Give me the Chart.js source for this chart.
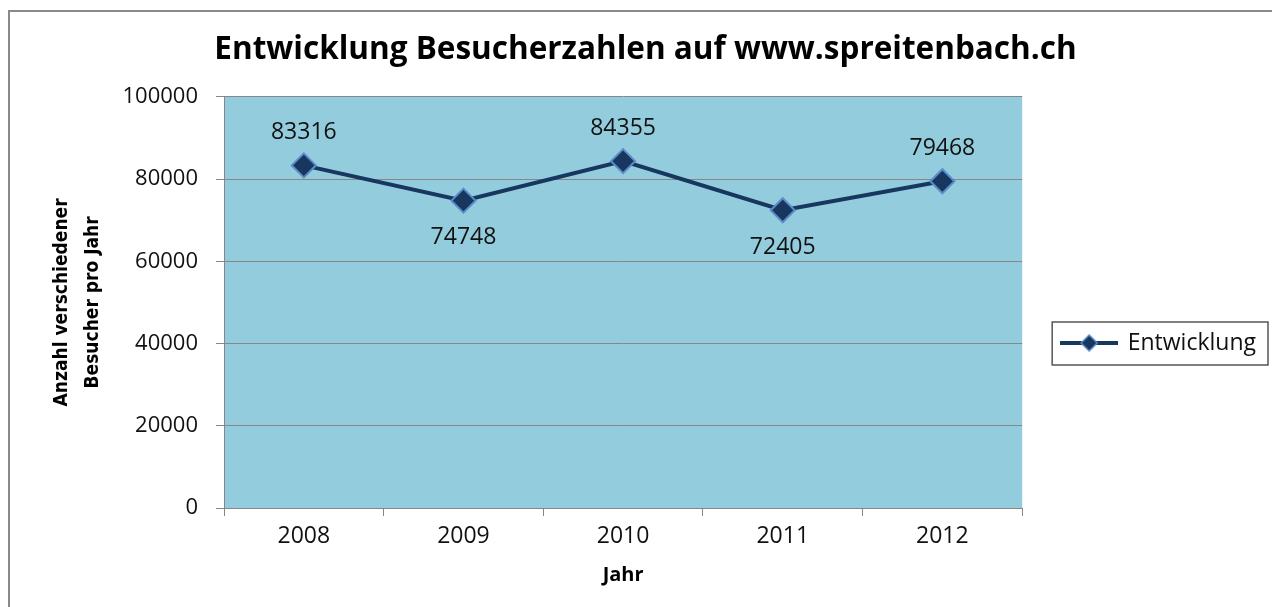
<!DOCTYPE html>
<html>
<head>
<meta charset="utf-8">
<script src="https://cdn.jsdelivr.net/npm/chart.js@4.4.1/dist/chart.umd.min.js"></script>
<style>
  html, body { margin: 0; padding: 0; background: #fff; }
  canvas { display: block; }
</style>
</head>
<body>
<canvas id="visits" width="1272" height="607"></canvas>
<script>
const years = ['2008', '2009', '2010', '2011', '2012'];
const visitors = [83316, 74748, 84355, 72405, 79468];
const yTicks = [0, 20000, 40000, 60000, 80000, 100000];
const seriesName = 'Entwicklung';

const lineColor = '#17375E';
const markerEdge = '#5B8BC9';
const gridColor = '#878787';
const fontFamily = "'Open Sans', 'Noto Sans', sans-serif";

// legend symbol: line with diamond in the middle
function legendSymbol () {
    const c = document.createElement('canvas');
    c.width = 58;
    c.height = 20;
    const ctx = c.getContext('2d');
    ctx.strokeStyle = lineColor;
    ctx.lineWidth = 4;
    ctx.beginPath();
    ctx.moveTo(0, 10);
    ctx.lineTo(58, 10);
    ctx.stroke();
    ctx.beginPath();
    ctx.moveTo(29, 2);
    ctx.lineTo(37, 10);
    ctx.lineTo(29, 18);
    ctx.lineTo(21, 10);
    ctx.closePath();
    ctx.fillStyle = lineColor;
    ctx.fill();
    ctx.lineWidth = 1.5;
    ctx.strokeStyle = markerEdge;
    ctx.stroke();
    return c;
}

const frame = {
    id: 'frame',
    beforeDraw (chart) {
        const { ctx } = chart;
        ctx.save();
        ctx.fillStyle = '#fff';
        ctx.fillRect(0, 0, chart.width, chart.height);
        ctx.strokeStyle = '#898989';
        ctx.lineWidth = 2;
        ctx.strokeRect(9, 11, chart.width + 20, chart.height + 20);
        const a = chart.chartArea;
        ctx.fillStyle = '#93CDDD';
        ctx.fillRect(a.left, a.top, a.right - a.left, a.bottom - a.top);
        ctx.restore();
    },
    afterDraw (chart) {
        const box = chart.legend.legendHitBoxes[0];
        if (!box) return;
        const { ctx } = chart;
        const mid = box.top + box.height / 2;
        ctx.save();
        ctx.strokeStyle = '#555';
        ctx.lineWidth = 1.5;
        ctx.strokeRect(box.left - 10, mid - 21, box.width + 22, 43);
        ctx.restore();
    }
};

const valueLabels = {
    id: 'valueLabels',
    afterDatasetsDraw (chart) {
        const { ctx } = chart;
        const meta = chart.getDatasetMeta(0);
        ctx.save();
        ctx.font = '23px ' + fontFamily;
        ctx.fillStyle = '#111';
        ctx.textAlign = 'center';
        ctx.textBaseline = 'middle';
        meta.data.forEach((pt, i) => {
            const below = i > 0 && visitors[i] < visitors[i - 1];
            ctx.fillText(String(visitors[i]), pt.x, pt.y + (below ? 37 : -33));
        });
        ctx.restore();
    }
};

new Chart(
    document.getElementById('visits'),
    {
        type: 'line',
        data: {
            labels: years,
            datasets: [
                {
                    label: seriesName,
                    data: visitors,
                    borderColor: lineColor,
                    borderWidth: 4,
                    tension: 0,
                    pointStyle: 'rectRot',
                    pointRadius: 12,
                    pointBackgroundColor: lineColor,
                    pointBorderColor: markerEdge,
                    pointBorderWidth: 2
                }
            ]
        },
        options: {
            responsive: false,
            animation: false,
            layout: {
                padding: { left: 25, right: 6, top: 0, bottom: 14 }
            },
            plugins: {
                title: {
                    display: true,
                    text: 'Entwicklung Besucherzahlen auf www.spreitenbach.ch',
                    color: '#000',
                    font: { family: fontFamily, size: 31.5, weight: 'bold', lineHeight: 1.2 },
                    padding: { top: 31, bottom: 28 }
                },
                legend: {
                    position: 'right',
                    title: {
                        display: true,
                        text: ' ',
                        font: { size: 20, lineHeight: 1.2 },
                        padding: { top: 69, bottom: 0 }
                    },
                    labels: {
                        usePointStyle: true,
                        pointStyleWidth: 54,
                        color: '#111',
                        padding: 40,
                        font: { family: fontFamily, size: 23 },
                        generateLabels: (chart) => [{
                            text: seriesName,
                            pointStyle: legendSymbol(),
                            datasetIndex: 0,
                            fontColor: '#111',
                            fillStyle: lineColor,
                            strokeStyle: lineColor,
                            lineWidth: 0
                        }]
                    }
                },
                tooltip: { enabled: false }
            },
            scales: {
                x: {
                    offset: true,
                    afterFit: (scale) => { scale.height = 85; },
                    grid: {
                        offset: true,
                        drawOnChartArea: false,
                        tickLength: 8,
                        color: gridColor
                    },
                    border: { color: gridColor, width: 1 },
                    ticks: {
                        color: '#111',
                        padding: 7,
                        font: { family: fontFamily, size: 23 }
                    },
                    title: {
                        display: true,
                        text: 'Jahr',
                        color: '#000',
                        font: { family: fontFamily, size: 20, weight: 'bold' },
                        padding: { top: 0, bottom: 6 }
                    }
                },
                y: {
                    min: yTicks[0],
                    max: yTicks[yTicks.length - 1],
                    afterFit: (scale) => { scale.width = 199; },
                    afterBuildTicks: (scale) => { scale.ticks = yTicks.map(v => ({ value: v })); },
                    grid: {
                        color: gridColor,
                        tickLength: 8,
                        lineWidth: 1
                    },
                    border: { color: gridColor, width: 1 },
                    ticks: {
                        color: '#111',
                        padding: 18,
                        font: { family: fontFamily, size: 22 },
                        callback: (value) => String(value)
                    },
                    title: {
                        display: true,
                        text: ['Anzahl verschiedener', 'Besucher pro Jahr'],
                        color: '#000',
                        font: { family: "'Liberation Sans Narrow', 'DejaVu Sans Condensed', sans-serif", size: 19, weight: 'bold', lineHeight: 1.6 },
                        padding: { top: 22, bottom: 0 }
                    }
                }
            }
        },
        plugins: [frame, valueLabels]
    }
);
</script>
</body>
</html>
